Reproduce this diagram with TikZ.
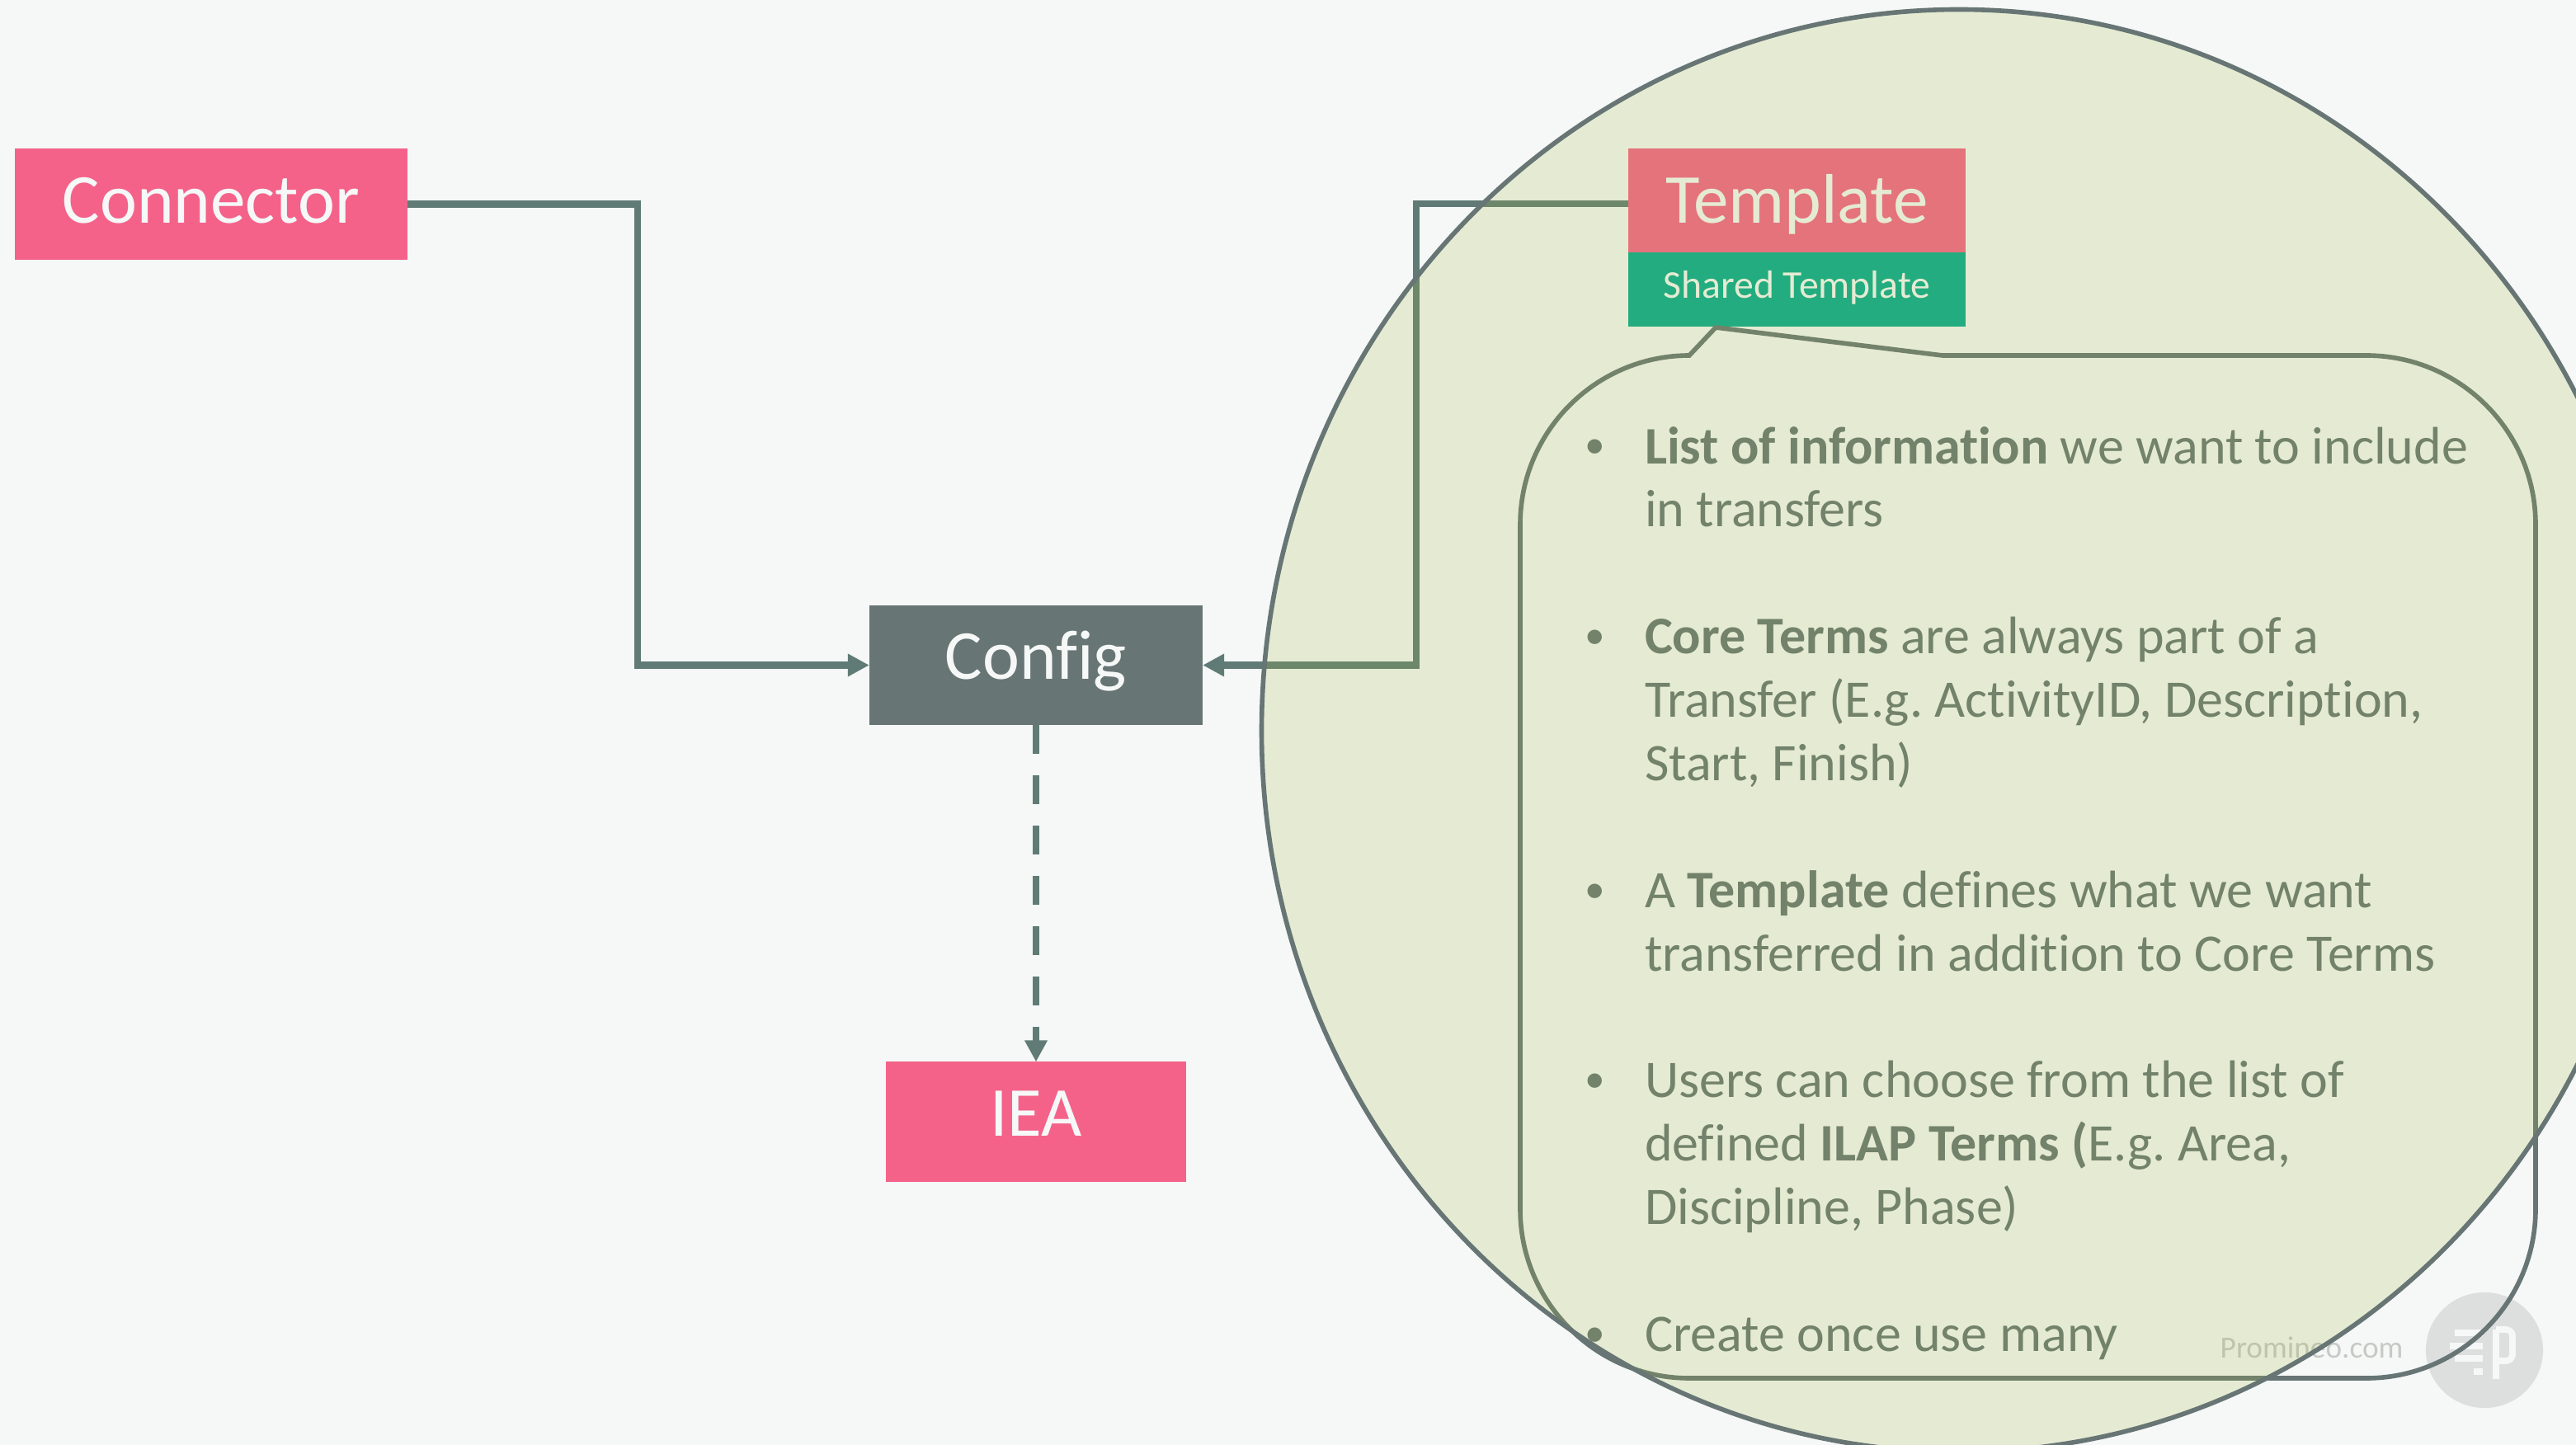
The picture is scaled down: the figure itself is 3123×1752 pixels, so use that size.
\documentclass[tikz,border=0pt]{standalone}
\usepackage{fontspec}
\setmainfont[Ligatures=NoCommon]{Carlito}
\usetikzlibrary{arrows.meta}
\definecolor{pagebg}{HTML}{F5F8F7}
\definecolor{rosebox}{HTML}{F4628A}
\definecolor{slatebox}{HTML}{677574}
\definecolor{tealbox}{HTML}{03AA8F}
\definecolor{linkcol}{HTML}{607B75}
\definecolor{limecol}{HTML}{A5B743}
\definecolor{logocol}{HTML}{DDDEDE}
\definecolor{marktext}{HTML}{C6C9C4}
\frenchspacing
\begin{document}
\begin{tikzpicture}[x=.01cm,y=-.01cm,
box/.style={inner sep=0pt,outer sep=0pt,text=pagebg,text depth=0pt,font=\fontsize{24.2pt}{28pt}\selectfont},
link/.style={draw=linkcol,line width=2.5pt,-{Triangle[length=.26cm,width=.26cm]}},
notetext/.style={anchor=base west,align=left,inner sep=0pt,outer sep=0pt,text=slatebox,font=\fontsize{18.2pt}{21.85pt}\selectfont},
outline/.style={draw=slatebox,line width=1.6pt}]
\useasboundingbox (0,0) rectangle (3123,1752);
\fill[pagebg] (0,0) rectangle (3123,1752);

% logo
\fill[logocol] (3012,1637) ellipse [x radius=.71cm,y radius=.70cm];
\draw[pagebg,line width=2.2pt]
(2976,1616) -- (3010,1616)
(2970,1632) -- (3010,1632)
(2976,1647) -- (3010,1647)
(2999,1663) -- (3010,1663)
(3026,1672) -- (3026,1612);
\draw[pagebg,line width=2.2pt,rounded corners=.08cm] (3026,1612) -- (3046,1612) -- (3046,1650) -- (3026,1650);
\node (mark) at (2691,1646) [anchor=base west,inner sep=0pt,text=marktext,font=\fontsize{10.6pt}{12pt}\selectfont] {Promineo.com};

\node (connector) at (255,247.5) [box,fill=rosebox,minimum width=4.76cm,minimum height=1.34cm,text height=.46cm,xshift=.01cm] {Connector};
\node (config) at (1256,806.5) [box,fill=slatebox,minimum width=4.04cm,minimum height=1.45cm,text height=.34cm] {Config};
\node (iea) at (1256,1360) [box,fill=rosebox,minimum width=3.64cm,minimum height=1.45cm,text height=.34cm] {IEA};
\node (template) at (2178.5,243) [box,fill=rosebox,minimum width=4.09cm,minimum height=1.26cm,text height=.54cm] {Template};
\node (shared) at (2178.5,351) [box,fill=tealbox,minimum width=4.09cm,minimum height=.90cm,text height=.20cm,font=\fontsize{13.55pt}{16pt}\selectfont] {Shared Template};

\coordinate (bendl) at (773,500);
\coordinate (bendr) at (1717,500);
\draw[link] (connector.east) -| (bendl) |- (config.west);
\draw[link] ([yshift=-.04cm]template.west) -| (bendr) |- (config.east);
\draw[link,dash pattern=on .35cm off .26cm] (config.south) -- (iea.north);

\draw[outline]
(2080,397) -- (2355,431) -- (2869,431)
.. controls (2982,431) and (3074,523) .. (3074,636) -- (3074,1466)
.. controls (3074,1579) and (2982,1671) .. (2869,1671) -- (2048,1671)
.. controls (1935,1671) and (1843,1579) .. (1843,1466) -- (1843,636)
.. controls (1843,523) and (1935,431) .. (2048,431) -- cycle;

\foreach \n/\y in {1/556,2/786,3/1094,4/1324,5/1632}
\node (bullet\n) at (1921,\y) [notetext,font=\fontsize{14pt}{16pt}\selectfont] {•};
\node (item1) at (1994,639) [notetext] {\textbf{List of information} we want to include\\in transfers};
\node (item2) at (1994,946) [notetext] {\textbf{Core Terms} are always part of a\\Transfer (E.g. ActivityID, Description,\\Start, Finish)};
\node (item3) at (1994,1177) [notetext] {A \textbf{Template} defines what we want\\transferred in addition to Core Terms};
\node (item4) at (1994,1484) [notetext] {Users can choose from the list of\\defined \textbf{ILAP Terms (}E.g. Area,\\Discipline, Phase)};
\node (item5) at (1994,1638) [notetext] {Create once use many};

\draw[draw=slatebox,line width=1.6pt,fill=limecol,fill opacity=.2,draw opacity=1] (2375,886) ellipse [x radius=8.45cm,y radius=8.74cm];
\end{tikzpicture}
\end{document}
